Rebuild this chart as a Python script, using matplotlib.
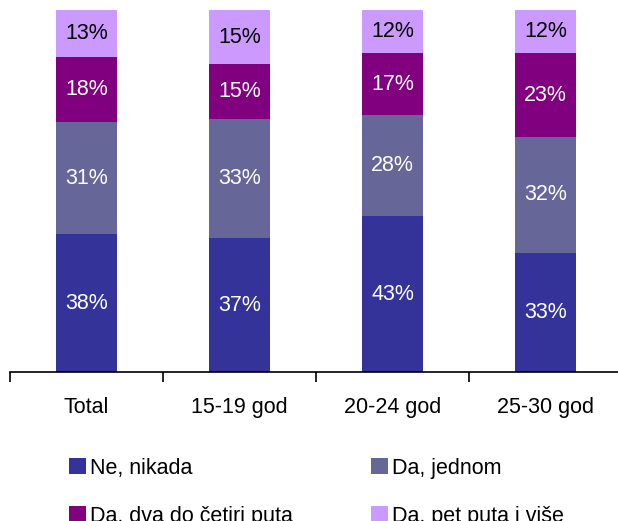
import numpy as np
import matplotlib.pyplot as plt

plt.rcParams['font.family'] = ['Liberation Sans', 'DejaVu Sans']

categories = ["Total", "15-19 god", "20-24 god", "25-30 god"]
series_names = ["Ne, nikada", "Da, jednom", "Da, dva do četiri puta", "Da, pet puta i više"]
ne_nikada = [38, 37, 43, 33]
da_jednom = [31, 33, 28, 32]
da_dva_do_cetiri = [18, 15, 17, 23]
da_pet_i_vise = [13, 15, 12, 12]

colors = ["#333399", "#666699", "#800080", "#CC99FF"]
text_colors = ["white", "white", "white", "black"]

fig = plt.figure(figsize=(6.18, 5.21), dpi=100)
ax = fig.add_axes([10 / 618, (521 - 372) / 521, 612 / 618, 362 / 521])

x = np.arange(len(categories))
bottom = np.zeros(len(categories))
handles = []
for vals, name, col, tcol in zip([ne_nikada, da_jednom, da_dva_do_cetiri, da_pet_i_vise],
                                 series_names, colors, text_colors):
    vals = np.array(vals, dtype=float)
    bars = ax.bar(x, vals, width=0.4, bottom=bottom, color=col, label=name)
    handles.append(bars)
    for xi, b, v in zip(x, bottom, vals):
        ax.text(xi, b + v / 2, f"{v:.0f}%", ha="center", va="center",
                color=tcol, fontsize=15.5)
    bottom += vals

ax.set_xlim(-0.5, 3.5)
ax.set_ylim(0, 100)
for s in ["top", "right", "left"]:
    ax.spines[s].set_visible(False)
ax.spines["bottom"].set_linewidth(1.2)
ax.set_yticks([])
ax.set_xticks(x)
ax.set_xticklabels(categories, fontsize=15.5)
ax.tick_params(axis="x", which="major", length=0, pad=18)
ax.set_xticks(np.arange(-0.5, 4, 1), minor=True)
ax.tick_params(axis="x", which="minor", length=7, width=1.2, direction="out")

order = [0, 2, 1, 3]
fig.legend([handles[i] for i in order], [series_names[i] for i in order],
           loc="upper left", bbox_to_anchor=(60 / 618, 1 - 449 / 521),
           ncol=2, frameon=False, fontsize=15.5,
           handlelength=0.8, handleheight=0.8, handletextpad=0.2,
           columnspacing=3.6, labelspacing=1.25, borderaxespad=0)

fig.savefig("out.png", dpi=100)
